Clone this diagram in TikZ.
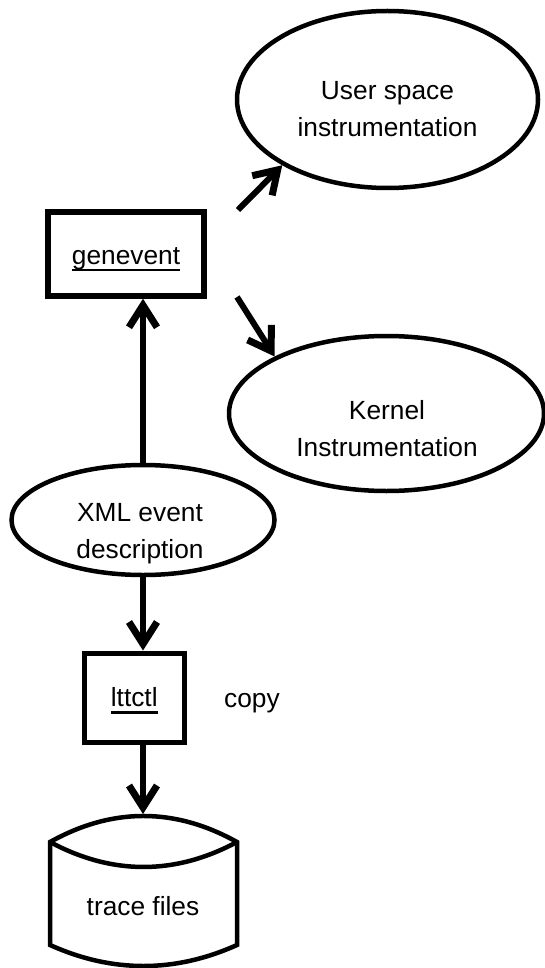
\documentclass[tikz,border=0pt]{standalone}
\usepackage{fontspec}
\setmainfont{Liberation Sans}
\usetikzlibrary{arrows.meta,shapes.geometric}
\newcommand\myul[1]{\setbox0=\hbox{#1}\rlap{\rule[-7pt]{\wd0}{2.2pt}}\box0}
\begin{document}
\begin{tikzpicture}[x=1pt,y=-1pt,
  every node/.style={font=\fontsize{26.3pt}{37pt}\selectfont},
  oval/.style={draw, ellipse, line width=4.5pt, inner sep=0pt},
  procbox/.style={draw, rectangle, line width=5.5pt, inner sep=0pt},
  txt/.style={align=center, inner sep=0pt},
  arr/.style={line width=6pt, line join=miter, -{Straight Barb[length=22pt,width=28pt,line width=7pt]}},
  store/.style={line width=4.5pt}
]
\useasboundingbox (0,0) rectangle (545,968);
% ovals
\node[oval, minimum width=301pt, minimum height=177pt] (us) at (387.5,99.5) {};
\node[txt] (ust) at (387.5,109) {User space\\instrumentation};
\node[oval, minimum width=315pt, minimum height=155pt] (ke) at (386.5,413.5) {};
\node[txt] (ket) at (387,429) {Kernel\\Instrumentation};
\node[oval, minimum width=263pt, minimum height=110pt] (xml) at (143,520) {};
\node[txt] (xmlt) at (140,533.6) {XML event\\description};
% boxes
\node[procbox, minimum width=156pt, minimum height=84pt, text height=24pt, text depth=4pt] (gen) at (126,254) {\myul{genevent}};
\node[procbox, line width=5pt, minimum width=99.5pt, minimum height=89pt, text height=22pt, text depth=4pt] (ltt) at (134.25,697.5) {\myul{lttctl}};
\node[anchor=base, inner sep=0pt] (copy) at (252,707) {copy};
% store
\draw[store] (50,842) .. controls (112.3,807.3) and (174.7,807.3) .. (237,842)
  -- (237,945) .. controls (174.7,973) and (112.3,973) .. (50,945) -- cycle;
\draw[store] (50,842) .. controls (112.3,875.3) and (174.7,875.3) .. (237,842);
\coordinate (cyltop) at (143,814);
\node[anchor=base, inner sep=0pt] (tf) at (143,915) {trace files};
% connectors
\coordinate (t1) at (238,210);
\coordinate (t2) at (237,297);
\draw[arr] (t1) -- (us.212);
\draw[arr] (t2) -- (ke.153.5);
\draw[arr] (xml.north) -- (xml.north |- gen.south);
\draw[arr] (xml.south) -- (xml.south |- ltt.north);
\draw[arr] (xml.south |- ltt.south) -- (cyltop);
\end{tikzpicture}
\end{document}
